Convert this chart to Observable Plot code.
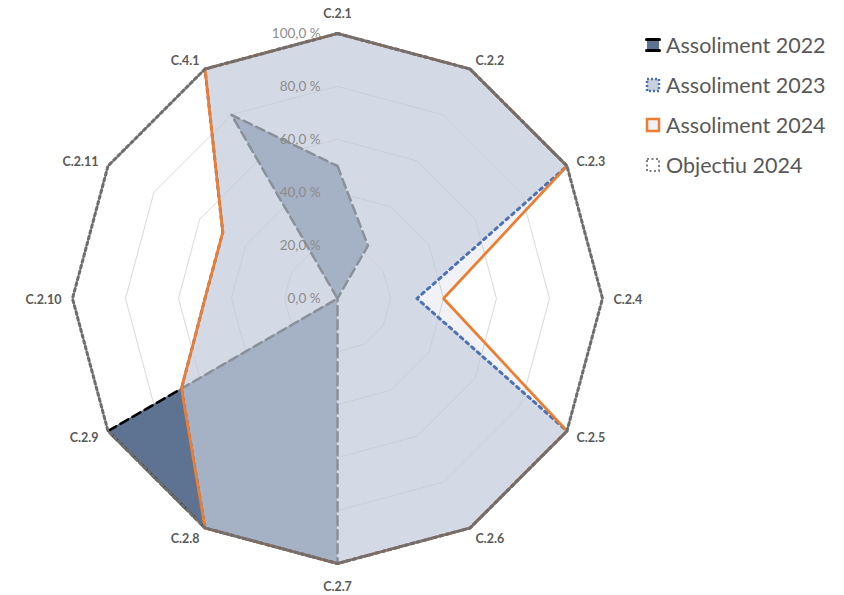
<!DOCTYPE html>
<html>
<head>
<meta charset="utf-8">
<script src="https://cdn.jsdelivr.net/npm/d3@7"></script>
<script src="https://cdn.jsdelivr.net/npm/@observablehq/plot@0.6"></script>
<style>
  html, body { margin: 0; padding: 0; background: #fff; }
  #wrap { position: relative; width: 844px; height: 595px; overflow: hidden; font-family: Lato, "Open Sans", sans-serif; }
  #legend { position: absolute; left: 645px; top: 0; }
  .item { position: absolute; left: 0; display: flex; align-items: center; white-space: nowrap; color: #595959; font-size: 21.5px; height: 24px; }
  .item svg { margin-right: 5px; }
</style>
</head>
<body>
<div id="wrap"><div id="chart"></div><div id="legend"></div></div>
<script>
// ---- data ----
const categories = ["C.2.1","C.2.2","C.2.3","C.2.4","C.2.5","C.2.6","C.2.7","C.2.8","C.2.9","C.2.10","C.2.11","C.4.1"];
const assoliment2022 = [50, 23, 0, 0, 0, 0, 100, 100, 100, 0, 0, 80];
const assoliment2023 = [100, 100, 100, 30, 100, 100, 100, 100, 68, 50, 50, 100];
const assoliment2024 = [100, 100, 100, 40, 100, 100, 100, 100, 68, 50, 50, 100];
const objectiu2024   = [100, 100, 100, 100, 100, 100, 100, 100, 100, 100, 100, 100];
const seriesNames = ["Assoliment 2022", "Assoliment 2023", "Assoliment 2024", "Objectiu 2024"];
const tickValues = [0, 20, 40, 60, 80, 100];
const tickLabels = ["0,0 %", "20,0 %", "40,0 %", "60,0 %", "80,0 %", "100,0 %"];

// ---- polar helpers ----
const n = categories.length;
const ang = i => i * 2 * Math.PI / n;
const px = (v, i) => (v / 100) * Math.sin(ang(i));
const py = (v, i) => (v / 100) * Math.cos(ang(i));
const toPoints = vals => vals.map((v, i) => ({ cat: categories[i], i, v }));

const p2022 = toPoints(assoliment2022);
const p2023 = toPoints(assoliment2023);
const p2024 = toPoints(assoliment2024);
const pObj = toPoints(objectiu2024);
const gridPts = tickValues.filter(t => t > 0).flatMap(t => categories.map((c, i) => ({ level: t, i, v: t })));
const ticks = tickValues.map((t, k) => ({ v: t, label: tickLabels[k] }));
const catPts = categories.map((c, i) => ({ cat: c, i, v: 100 }));

const X = d => px(d.v, d.i), Y = d => py(d.v, d.i);

// one text mark per category so each can have its own anchor/offset
const catMarks = catPts.map(d => {
  const s = Math.sin(ang(d.i)), c = Math.cos(ang(d.i));
  const vertical = Math.abs(s) < 0.01;
  return Plot.text([d], {
    x: X, y: Y, text: "cat",
    textAnchor: s > 0.01 ? "start" : s < -0.01 ? "end" : "middle",
    dx: 11 * s,
    dy: -c * 11 + 1.5 + (vertical ? -c * 10.5 : 0),
    fill: "#595959", fontWeight: "bold", fontSize: 12.5
  });
});

const chart = Plot.plot({
  width: 844,
  height: 595,
  marginLeft: 72, marginRight: 242, marginTop: 33, marginBottom: 32,
  x: { domain: [-1, 1], axis: null },
  y: { domain: [-1, 1], axis: null },
  style: { fontFamily: "Lato, 'Open Sans', sans-serif", background: "white", overflow: "visible" },
  marks: [
    Plot.line(gridPts, { x: X, y: Y, z: "level", curve: "linear-closed", stroke: "#D9D9D9", strokeWidth: 1 }),
    // 2022
    Plot.area(p2022, { x1: X, y1: Y, x2: 0, y2: 0, curve: "linear-closed", fill: "#5E7291" }),
    Plot.line(p2022, { x: X, y: Y, curve: "linear-closed", stroke: "#000", strokeWidth: 2.5, strokeDasharray: "9,5" }),
    // 2023
    Plot.area(p2023, { x1: X, y1: Y, x2: 0, y2: 0, curve: "linear-closed", fill: "rgb(209,217,227)", fillOpacity: 0.68 }),
    Plot.line(p2023, { x: X, y: Y, curve: "linear-closed", stroke: "#4A70B5", strokeWidth: 3, strokeDasharray: "3,4.5" }),
    // 2024
    Plot.area(p2024, { x1: X, y1: Y, x2: 0, y2: 0, curve: "linear-closed", fill: "rgb(105,125,165)", fillOpacity: 0.1 }),
    Plot.line(p2024, { x: X, y: Y, curve: "linear-closed", stroke: "#ED7D31", strokeWidth: 2.75, strokeLinejoin: "miter" }),
    // Objectiu
    Plot.line(pObj, { x: X, y: Y, curve: "linear-closed", stroke: "#6E6E6E", strokeWidth: 3, strokeDasharray: "3,3" }),
    // tick labels
    Plot.text(ticks, { x: 0, y: d => d.v / 100, text: "label", textAnchor: "end", dx: -17, fill: "#8C8C8C", fontSize: 13.5 }),
    ...catMarks
  ]
});
document.getElementById("chart").appendChild(chart);

// ---- legend ----
const markers = [
  `<svg width="16" height="16"><rect x="2" y="3" width="12" height="10" fill="#5E7291"/><line x1="1.5" y1="2.5" x2="14.5" y2="2.5" stroke="#000" stroke-width="3" stroke-linecap="round"/><line x1="1.5" y1="13.5" x2="14.5" y2="13.5" stroke="#000" stroke-width="3" stroke-linecap="round"/></svg>`,
  `<svg width="16" height="16"><rect x="2" y="2" width="12" height="12" fill="#C9D1DE" stroke="#4A70B5" stroke-width="2.5" stroke-dasharray="2,2"/></svg>`,
  `<svg width="16" height="16"><rect x="2" y="2" width="12" height="12" fill="#EEF1F5" stroke="#ED7D31" stroke-width="2.5"/></svg>`,
  `<svg width="16" height="16"><rect x="2" y="2" width="12" height="12" fill="none" stroke="#7F7F7F" stroke-width="2" stroke-dasharray="2,2.5"/></svg>`
];
const legendY = [45, 85, 125, 165];
const legend = document.getElementById("legend");
seriesNames.forEach((name, k) => {
  const div = document.createElement("div");
  div.className = "item";
  div.style.top = (legendY[k] - 12) + "px";
  div.innerHTML = markers[k] + `<span>${name}</span>`;
  legend.appendChild(div);
});
</script>
</body>
</html>
